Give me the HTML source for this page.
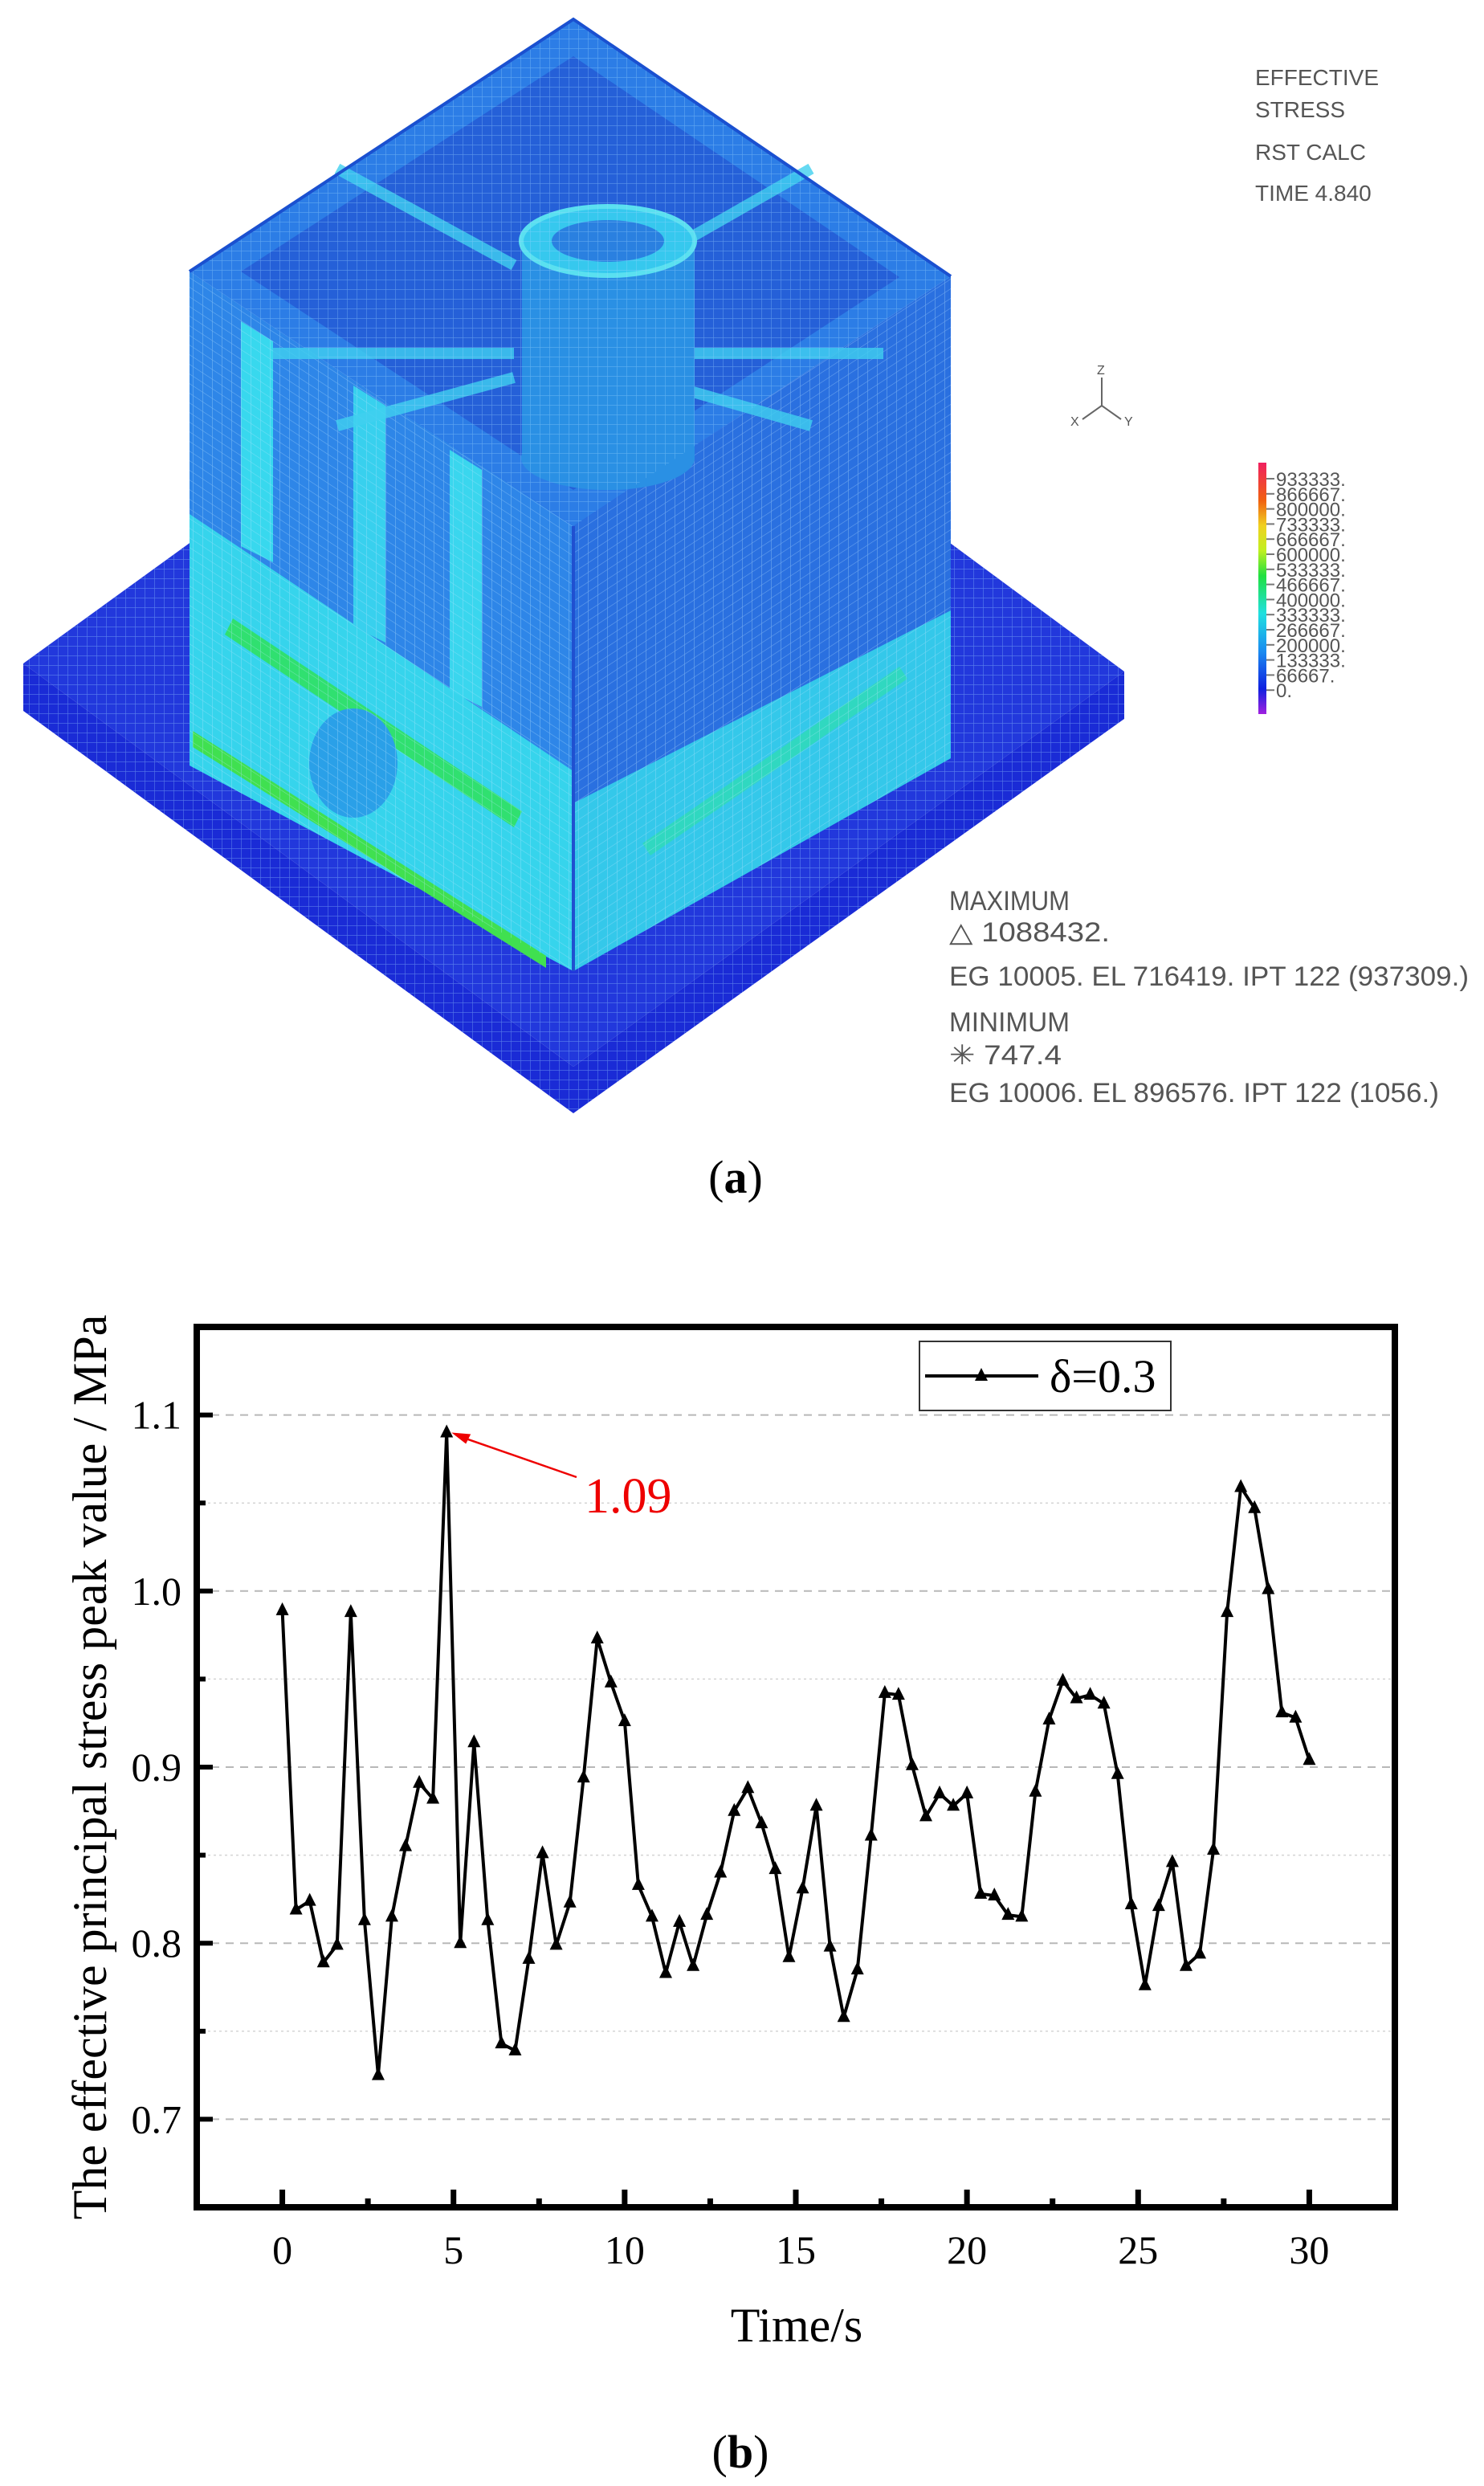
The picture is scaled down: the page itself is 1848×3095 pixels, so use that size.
<!DOCTYPE html>
<html><head><meta charset="utf-8"><style>
html,body{margin:0;padding:0;background:#fff;}
svg{display:block;}
text{font-family:"Liberation Serif",serif;}
.fem{font-family:"Liberation Sans",sans-serif;fill:#555;}
</style></head><body>
<svg id="fig" width="1848" height="3095" viewBox="0 0 1848 3095" xmlns="http://www.w3.org/2000/svg">
<defs>
<pattern id="mesh" width="12" height="12" patternUnits="userSpaceOnUse">
<path d="M0 0H12M0 0V12" stroke="#9fd8ff" stroke-width="1.2" opacity="0.45" fill="none"/>
</pattern>
<pattern id="meshL" width="12" height="12" patternUnits="userSpaceOnUse" patternTransform="skewY(33)">
<path d="M0 0H12M0 0V12" stroke="#bfe8ff" stroke-width="1.2" opacity="0.45" fill="none"/>
</pattern>
<pattern id="meshR" width="12" height="12" patternUnits="userSpaceOnUse" patternTransform="skewY(-33)">
<path d="M0 0H12M0 0V12" stroke="#bfe8ff" stroke-width="1.2" opacity="0.45" fill="none"/>
</pattern>
<linearGradient id="cbar" x1="0" y1="1" x2="0" y2="0">
<stop offset="0" stop-color="#a020e0"/><stop offset="0.1" stop-color="#1020e0"/>
<stop offset="0.25" stop-color="#1a8cf0"/><stop offset="0.4" stop-color="#20e0e0"/>
<stop offset="0.55" stop-color="#20e040"/><stop offset="0.65" stop-color="#c0f020"/>
<stop offset="0.75" stop-color="#f0d020"/><stop offset="0.85" stop-color="#f06010"/>
<stop offset="1" stop-color="#f02060"/>
</linearGradient>
</defs>

<g>
<polygon points="29,826 714,1328 1400,836 1400,895 714,1386 29,885" fill="#1a2bd6"/>
<polygon points="29,826 714,330 1400,836 714,1328" fill="#2238dc"/>
<polygon points="29,826 714,330 1400,836 714,1328" fill="url(#mesh)"/>
<polygon points="29,826 714,1328 1400,836 1400,895 714,1386 29,885" fill="url(#mesh)"/>
<polygon points="236,338 714,655 714,1209 236,953" fill="#2e86e8"/>
<polygon points="236,640 714,960 714,1209 236,953" fill="#36d4ec"/>
<polygon points="300,400 340,425 340,700 300,680" fill="#38d8ee"/>
<polygon points="440,480 480,505 480,800 440,780" fill="#38d0ee"/>
<polygon points="560,560 600,585 600,880 560,860" fill="#3ad6ee"/>
<polygon points="290,770 650,1010 640,1030 280,790" fill="#30e070"/>
<polygon points="240,910 680,1190 680,1205 240,930" fill="#40e050"/>
<ellipse cx="440" cy="950" rx="55" ry="68" fill="#2aa0e8"/>
<polygon points="236,338 714,655 714,1209 236,953" fill="url(#meshL)"/>
<polygon points="714,655 1184,344 1184,944 714,1209" fill="#2a70e0"/>
<polygon points="714,1000 1184,760 1184,944 714,1209" fill="#34c8ea"/>
<polygon points="800,1050 1120,830 1130,845 810,1065" fill="#30d8c0"/>
<polygon points="714,655 1184,344 1184,944 714,1209" fill="url(#meshR)"/>
<polygon points="714,24 1184,344 714,655 236,338" fill="#2c7de6"/>
<polygon points="714,70 1120,345 714,610 300,338" fill="#2560d8"/>
<g stroke="#40d0f0" stroke-width="14" opacity="0.8">
<line x1="420" y1="210" x2="640" y2="330"/><line x1="1010" y1="210" x2="800" y2="330"/>
<line x1="340" y1="440" x2="640" y2="440"/><line x1="800" y1="440" x2="1100" y2="440"/>
<line x1="420" y1="530" x2="640" y2="470"/><line x1="1010" y1="530" x2="800" y2="470"/>
</g>
<rect x="650" y="300" width="215" height="270" fill="#2a90e4"/>
<ellipse cx="757" cy="570" rx="108" ry="40" fill="#2a90e4"/>
<ellipse cx="757" cy="300" rx="108" ry="43" fill="#36c8ee" stroke="#5ae0f0" stroke-width="6"/>
<ellipse cx="757" cy="300" rx="70" ry="26" fill="#2a80e0"/>
<polygon points="714,24 1184,344 714,655 236,338" fill="url(#mesh)"/>
<polyline points="236,338 714,24 1184,344" fill="none" stroke="#1a50d0" stroke-width="4"/>
<line x1="714" y1="655" x2="714" y2="1209" stroke="#2050d0" stroke-width="4"/>
</g>

<g class="fem">
<text x="1563" y="106" font-size="28" class="fem">EFFECTIVE</text>
<text x="1563" y="146" font-size="28" class="fem">STRESS</text>
<text x="1563" y="199" font-size="28" class="fem">RST CALC</text>
<text x="1563" y="250" font-size="28" class="fem">TIME 4.840</text>
<rect x="1567" y="576" width="10" height="313" fill="url(#cbar)"/>
<g id="cbarLabels"></g>
<g stroke="#666" stroke-width="2" fill="none">
<line x1="1372" y1="505" x2="1372" y2="470"/><line x1="1372" y1="505" x2="1348" y2="522"/><line x1="1372" y1="505" x2="1396" y2="522"/>
</g>
<text x="1366" y="466" font-size="16" class="fem">Z</text>
<text x="1333" y="530" font-size="16" class="fem">X</text>
<text x="1400" y="530" font-size="16" class="fem">Y</text>
<text x="1182" y="1133" font-size="34" class="fem" textLength="150" lengthAdjust="spacingAndGlyphs">MAXIMUM</text>
<text x="1182" y="1172" font-size="34" class="fem" textLength="200" lengthAdjust="spacingAndGlyphs">△  1088432.</text>
<text x="1182" y="1227" font-size="34" class="fem" textLength="647" lengthAdjust="spacingAndGlyphs">EG 10005. EL 716419. IPT 122 (937309.)</text>
<text x="1182" y="1284" font-size="34" class="fem" textLength="150" lengthAdjust="spacingAndGlyphs">MINIMUM</text>
<text x="1182" y="1325" font-size="34" class="fem" textLength="140" lengthAdjust="spacingAndGlyphs">✳  747.4</text>
<text x="1182" y="1372" font-size="34" class="fem" textLength="610" lengthAdjust="spacingAndGlyphs">EG 10006. EL 896576. IPT 122 (1056.)</text>
</g>
<text x="916" y="1485" font-size="58" text-anchor="middle">(<tspan font-weight="bold">a</tspan>)</text>

<g id="chart"></g>
<text x="922" y="3072" font-size="58" text-anchor="middle">(<tspan font-weight="bold">b</tspan>)</text>
</svg>
<script>
const cbarValues = ["933333.","866667.","800000.","733333.","666667.","600000.","533333.","466667.","400000.","333333.","266667.","200000.","133333.","66667.","0."];
const times = [0,0.4,0.8,1.2,1.6,2,2.4,2.8,3.2,3.6,4,4.4,4.8,5.2,5.6,6,6.4,6.8,7.2,7.6,8,8.4,8.8,9.2,9.6,10,10.4,10.8,11.2,11.6,12,12.4,12.8,13.2,13.6,14,14.4,14.8,15.2,15.6,16,16.4,16.8,17.2,17.6,18,18.4,18.8,19.2,19.6,20,20.4,20.8,21.2,21.6,22,22.4,22.8,23.2,23.6,24,24.4,24.8,25.2,25.6,26,26.4,26.8,27.2,27.6,28,28.4,28.8,29.2,29.6,30];
const stress = [0.989,0.819,0.824,0.789,0.799,0.988,0.813,0.725,0.815,0.855,0.891,0.882,1.09,0.80,0.914,0.813,0.743,0.739,0.791,0.851,0.799,0.823,0.894,0.973,0.948,0.926,0.833,0.815,0.783,0.812,0.787,0.816,0.840,0.875,0.888,0.868,0.842,0.792,0.831,0.878,0.798,0.758,0.785,0.861,0.942,0.941,0.901,0.872,0.885,0.878,0.885,0.828,0.827,0.816,0.815,0.886,0.927,0.949,0.939,0.941,0.936,0.896,0.822,0.776,0.821,0.846,0.787,0.794,0.853,0.988,1.059,1.047,1.001,0.931,0.928,0.904];
const xTicks = [0,5,10,15,20,25,30];
const yTicks = [0.7,0.8,0.9,1.0,1.1];
const yTickLabels = ["0.7","0.8","0.9","1.0","1.1"];
const peakLabel = "1.09";

const NS="http://www.w3.org/2000/svg";
function mk(tag, attrs, parent){const e=document.createElementNS(NS,tag);for(const k in attrs)e.setAttribute(k,attrs[k]);parent.appendChild(e);return e;}

const cl=document.getElementById('cbarLabels');
cbarValues.forEach((v,i)=>{
  const y=596+i*18.8;
  const t=mk('text',{x:1589,y:y+9,'font-size':24,class:'fem'},cl);
  
  
  t.textContent=v;
  mk('line',{x1:1577,y1:y,x2:1587,y2:y,stroke:'#777','stroke-width':2},cl);
});

const L=245,R=1737,T=1652,B=2748, X0=-2.5,X1=32.5,Y0=0.65,Y1=1.15;
const sx=v=>L+(v-X0)/(X1-X0)*(R-L);
const sy=v=>B-(v-Y0)/(Y1-Y0)*(B-T);
const g=document.getElementById('chart');

for(let v=0.7;v<1.151;v+=0.05){
  const major=Math.abs((v*10)-Math.round(v*10))<0.01;
  const gl=mk('line',{x1:L,x2:R,y1:sy(v),y2:sy(v),stroke:major?'#b8b8b8':'#d4d4d4','stroke-width':major?2:1.5,'stroke-dasharray':major?'10,8':'3,4'},g);
  
  
}
yTicks.forEach((v,i)=>{
  mk('line',{x1:L,x2:L+20,y1:sy(v),y2:sy(v),stroke:'#000','stroke-width':6},g);
  const t=mk('text',{x:226,y:sy(v)+17,'font-size':50,'text-anchor':'end'},g);
  
  
  t.textContent=yTickLabels[i];
});
for(let v=0.75;v<1.15;v+=0.1){mk('line',{x1:L,x2:L+11,y1:sy(v),y2:sy(v),stroke:'#000','stroke-width':6},g);}
xTicks.forEach(v=>{
  mk('line',{x1:sx(v),x2:sx(v),y1:B,y2:B-22,stroke:'#000','stroke-width':7},g);
  const t=mk('text',{x:sx(v),y:2818,'font-size':50,'text-anchor':'middle'},g);
  
  
  t.textContent=String(v);
});
for(let v=-2.5;v<=32.5;v+=5){mk('line',{x1:sx(v),x2:sx(v),y1:B,y2:B-11,stroke:'#000','stroke-width':7},g);}
const fr=mk('rect',{x:L,y:T,width:R-L,height:B-T,fill:'none',stroke:'#000','stroke-width':8},g);



const pl=mk('polyline',{points:times.map((t,i)=>sx(t)+','+sy(stress[i])).join(' '),fill:'none',stroke:'#000','stroke-width':4,'stroke-linejoin':'round'},g);


times.forEach((t,i)=>{
  const x=sx(t),y=sy(stress[i]);
  const m=mk('polygon',{points:`${x},${y-10} ${x-8},${y+6} ${x+8},${y+6}`,fill:'#000'},g);
  
  
});

const pi=stress.indexOf(Math.max(...stress));
const px=sx(times[pi]), py=sy(stress[pi]);
const ar=mk('line',{x1:718,y1:1839,x2:px+14,y2:py+4,stroke:'#e00','stroke-width':2.5},g);


mk('polygon',{points:`${px+6},${py} ${px+30},${py+2} ${px+24},${py+14}`,fill:'#e00'},g);
const at=mk('text',{x:728,y:1883,'font-size':62,fill:'#e00'},g);


at.textContent=peakLabel;

const lg=mk('g',{},g);


mk('rect',{x:1145,y:1670,width:313,height:86,fill:'#fff',stroke:'#333','stroke-width':2},lg);
mk('line',{x1:1152,x2:1293,y1:1713,y2:1713,stroke:'#000','stroke-width':4},lg);
mk('polygon',{points:'1222,1703 1214,1719 1230,1719',fill:'#000'},lg);
const lt=mk('text',{x:1307,y:1733,'font-size':58},lg);


lt.textContent='δ=0.3';

const xt=mk('text',{x:992,y:2915,'font-size':60,'text-anchor':'middle'},g);


xt.textContent='Time/s';
const yt=mk('text',{x:0,y:0,'font-size':60,'text-anchor':'middle',transform:'translate(132,2200) rotate(-90)'},g);


yt.textContent='The effective principal stress peak value / MPa';
</script>
</body></html>
